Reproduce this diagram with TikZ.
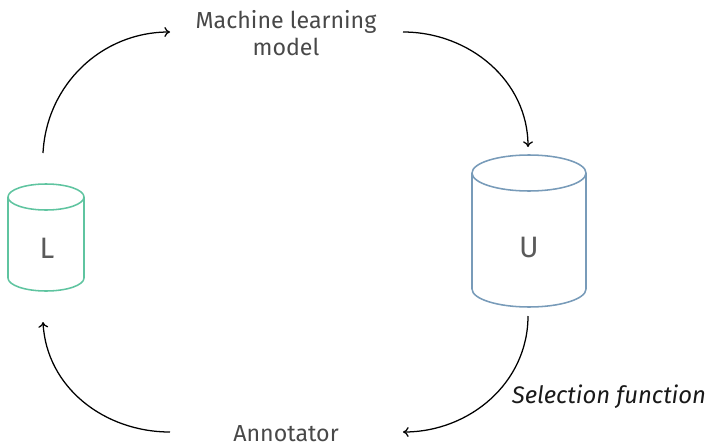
\documentclass[tikz,border=0pt]{standalone}
\usepackage{fontspec}
\setmainfont{Fira Sans}
\usepackage{tikz}
\usetikzlibrary{arrows.meta}
\definecolor{labgreen}{RGB}{95,196,160}
\definecolor{unlblue}{RGB}{120,155,185}
\definecolor{txtgray}{RGB}{72,72,72}
\tikzstyle{label} = [text=txtgray, font=\fontsize{16.5}{19.5}\selectfont, align=center]
\tikzstyle{dbname} = [text=txtgray!90, font=\fontsize{21}{24}\selectfont]
\tikzstyle{db} = [line width=1.1pt]
\tikzstyle{flow} = [draw, line width=0.9pt, -{To[length=4pt,width=7pt]}]

\begin{document}
\begin{tikzpicture}[x=0.025cm, y=0.025cm]
		\useasboundingbox (0,0) rectangle (710,443);
		% Draw databases
		\draw [db, labgreen] (46,246) ellipse (38 and 13);
		\draw [db, labgreen] (8,246) -- (8,165) arc (180:360:38 and 13) -- (84,246);
		\draw [db, unlblue] (529,270) ellipse (57 and 18);
		\draw [db, unlblue] (472,270) -- (472,154) arc (180:360:57 and 18) -- (586,270);
		% Place nodes
		\node [dbname] (L) at (47,195) {L};
		\node [dbname] (U) at (529,195) {U};
		\node [label] (model) at (286,410) {Machine learning\\model};
		\node [label] (annot) at (286,9) {Annotator};
		\node [font=\fontsize{17}{20}\selectfont\itshape, text=black!90] (select) at (609,46) {Selection function};
		\coordinate (Ltop) at (43,290);
		\coordinate (Lbot) at (43,121);
		\coordinate (Utop) at (528,296);
		\coordinate (Ubot) at (528,127);
		\coordinate (modelin) at (170,411);
		\coordinate (modelout) at (403,411);
		\coordinate (annotin) at (403,11);
		\coordinate (annotout) at (170,11);
		% Draw edges
		\path [flow] (Ltop) to[out=87, in=180] (modelin);
		\path [flow] (modelout) to[out=0, in=90] (Utop);
		\path [flow] (Ubot) to[out=-90, in=0] (annotin);
		\path [flow] (annotout) to[out=180, in=-87] (Lbot);
	\end{tikzpicture}
\end{document}
